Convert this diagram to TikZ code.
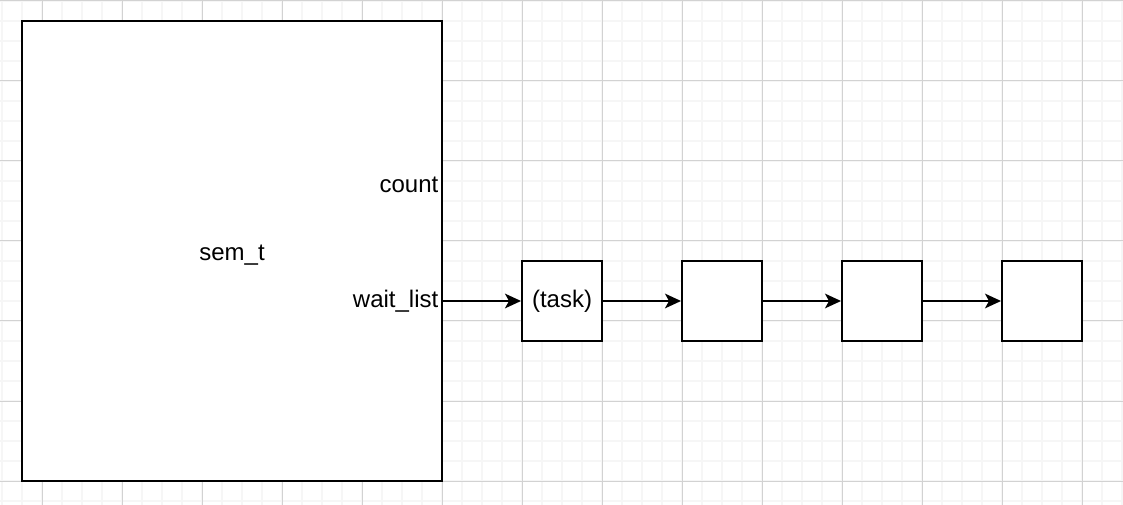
\documentclass[tikz,border=0pt]{standalone}
\usepackage{fontspec}
\setmainfont{Liberation Sans}
\usetikzlibrary{arrows.meta}
\begin{document}
\begin{tikzpicture}[x=0.75pt,y=-0.75pt,
    minorgrid/.style={gray!7,line width=1.5pt},
    majorgrid/.style={gray!35,line width=0.75pt},
    cell/.style={draw,fill=white,line width=1.5pt,minimum width=60pt,minimum height=60pt,inner sep=0pt},
    link/.style={line width=1.5pt,-{Stealth[length=12pt,width=11pt,inset=3pt]}},
    font=\fontsize{18pt}{20pt}\selectfont]
        \useasboundingbox[fill=white] (0,0) rectangle (1123,505);

        %griglia
        \foreach \x in {2,22,...,1122} \draw[minorgrid] (\x,0) -- (\x,505);
        \foreach \y in {1,21,...,501} \draw[minorgrid] (0,\y) -- (1123,\y);
        \foreach \x in {42,122,...,1082} \draw[majorgrid] (\x,0) -- (\x,505);
        \foreach \y in {1,81,...,481} \draw[majorgrid] (0,\y) -- (1123,\y);

        %struttura sem_t
        \draw[fill=white,line width=1.5pt] (22,21) rectangle (442,481);
        \node (sem) at (232,255) {sem\_t};
        \node[anchor=east] (count) at (443,185) {count};
        \node[anchor=east] (waitlist) at (443,301) {wait\_list};
        \coordinate (wl) at (442,301);

        %lista dei task
        \node[cell] (t1) at (562,301) {(task)};
        \node[cell] (t2) at (722,301) {};
        \node[cell] (t3) at (882,301) {};
        \node[cell] (t4) at (1042,301) {};

        %frecce
        \draw[link] (wl) -- (t1);
        \draw[link] (t1) -- (t2);
        \draw[link] (t2) -- (t3);
        \draw[link] (t3) -- (t4);
\end{tikzpicture}
\end{document}
